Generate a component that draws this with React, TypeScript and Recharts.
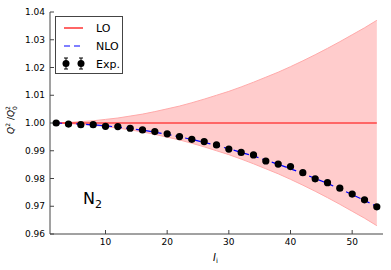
import React from 'react';
import {
  ComposedChart, Area, Line, Scatter, ErrorBar, XAxis, YAxis, Legend,
} from 'recharts';

// particle number I_i
const xs = [2, 4, 6, 8, 10, 12, 14, 16, 18, 20, 22, 24, 26, 28, 30, 32, 34, 36, 38, 40, 42, 44, 46, 48, 50, 52, 54];

// measured ratio Q^2/Q_0^2
const expValues = [
  1.0000, 0.9996, 0.9994, 0.9994, 0.9988, 0.9987, 0.9981, 0.9975, 0.9969, 0.9961,
  0.9951, 0.9941, 0.9933, 0.9921, 0.9906, 0.9894, 0.9885, 0.9863, 0.9852, 0.9843,
  0.9821, 0.9799, 0.9785, 0.9765, 0.9744, 0.9723, 0.9698,
];
const expErrors = [
  0.0003, 0.0003, 0.0003, 0.0003, 0.0003, 0.0003, 0.0003, 0.0003, 0.0003, 0.0003,
  0.0003, 0.0003, 0.0003, 0.0003, 0.0003, 0.0003, 0.0003, 0.0003, 0.0003, 0.0003,
  0.0003, 0.0003, 0.0003, 0.0003, 0.0003, 0.0003, 0.0003,
];

// NLO curve
const nloValues = [
  1.0000, 0.9998, 0.9996, 0.9993, 0.9990, 0.9985, 0.9980, 0.9974, 0.9967, 0.9959,
  0.9950, 0.9941, 0.9930, 0.9919, 0.9907, 0.9894, 0.9881, 0.9866, 0.9851, 0.9835,
  0.9818, 0.9800, 0.9782, 0.9762, 0.9742, 0.9721, 0.9699,
];

// LO line and its uncertainty band
const loValues = [
  1, 1, 1, 1, 1, 1, 1, 1, 1, 1, 1, 1, 1, 1, 1, 1, 1, 1, 1, 1, 1, 1, 1, 1, 1, 1, 1,
];
const bandLow = [
  0.9999, 0.9998, 0.9995, 0.9992, 0.9987, 0.9982, 0.9975, 0.9968, 0.9959, 0.9949,
  0.9939, 0.9927, 0.9914, 0.9900, 0.9886, 0.9870, 0.9853, 0.9835, 0.9817, 0.9797,
  0.9776, 0.9754, 0.9731, 0.9707, 0.9682, 0.9657, 0.9630,
];
const bandHigh = [
  1.0001, 1.0002, 1.0005, 1.0008, 1.0013, 1.0018, 1.0025, 1.0032, 1.0041, 1.0051,
  1.0061, 1.0073, 1.0086, 1.0100, 1.0114, 1.0130, 1.0147, 1.0165, 1.0183, 1.0203,
  1.0224, 1.0246, 1.0269, 1.0293, 1.0318, 1.0343, 1.0370,
];

const xTicks = [10, 20, 30, 40, 50];
const yTicks = [0.96, 0.97, 0.98, 0.99, 1.0, 1.01, 1.02, 1.03, 1.04];

const data = xs.map((x, i) => ({
  x,
  exp: expValues[i],
  err: expErrors[i],
  nlo: nloValues[i],
  lo: loValues[i],
  band: [bandLow[i], bandHigh[i]],
}));

const FONT = '"DejaVu Sans", sans-serif';
const AXIS = '#444';

const LegendBox = () => (
  <div style={{ width: 66, height: 56, border: `1px solid ${AXIS}`, background: '#fff', fontFamily: FONT }}>
    <svg width={66} height={56}>
      <line x1={8} x2={27} y1={11} y2={11} stroke="#ff0000" strokeWidth={1.2} />
      <text x={40} y={15} fontSize={11} fill="#000">LO</text>
      <line x1={8} x2={27} y1={29} y2={29} stroke="#0000ff" strokeWidth={1.2} strokeDasharray="6 4" />
      <text x={40} y={33} fontSize={11} fill="#000">NLO</text>
      {[10, 25].map((cx) => (
        <g key={cx}>
          <line x1={cx} x2={cx} y1={41} y2={52} stroke="#000" strokeWidth={1} />
          <line x1={cx - 2} x2={cx + 2} y1={41} y2={41} stroke="#000" />
          <line x1={cx - 2} x2={cx + 2} y1={52} y2={52} stroke="#000" />
          <circle cx={cx} cy={46.5} r={3.5} fill="#000" />
        </g>
      ))}
      <text x={40} y={51} fontSize={11} fill="#000">Exp.</text>
    </svg>
  </div>
);

const XLabel = ({ viewBox }: any) => {
  const cx = viewBox.x + viewBox.width / 2;
  return (
    <text x={cx - 1} y={viewBox.y + 27} fontSize={10} fontFamily={FONT} fill="#000" textAnchor="middle">
      <tspan fontStyle="italic">I</tspan>
      <tspan fontSize={7} dy={2}>i</tspan>
    </text>
  );
};

const YLabel = () => (
  <text x={14} y={120} fontSize={9} fontFamily={FONT} fill="#000" textAnchor="middle" transform="rotate(-90, 14, 120)">
    <tspan fontStyle="italic">Q</tspan>
    <tspan fontSize={6} dy={-4}>2</tspan>
    <tspan dy={4}> /</tspan>
    <tspan fontStyle="italic">Q</tspan>
    <tspan fontSize={6} dy={-4}>2</tspan>
    <tspan fontSize={6} dx={-3.8} dy={7}>0</tspan>
  </text>
);

export default function App() {
  return (
    <div style={{ position: 'absolute', left: 0, top: 0, width: 391, height: 270, background: '#fff', fontFamily: FONT }}>
      <ComposedChart width={391} height={270} data={data} margin={{ top: 12, right: 8, bottom: 0, left: 0 }}>
        <XAxis
          xAxisId="b" dataKey="x" type="number" domain={[1, 55]} ticks={xTicks}
          height={36} tickSize={-4} tickMargin={9} stroke={AXIS}
          tick={{ fill: '#000', fontSize: 9, fontFamily: FONT }}
          label={<XLabel />}
        />
        <XAxis
          xAxisId="t" orientation="top" dataKey="x" type="number" domain={[1, 55]} ticks={xTicks}
          height={0} tickSize={-4} stroke={AXIS} tick={false}
        />
        <YAxis
          yAxisId="l" type="number" domain={[0.96, 1.04]} ticks={yTicks} width={50}
          tickSize={-4} tickMargin={9} stroke={AXIS}
          tick={{ fill: '#000', fontSize: 9, fontFamily: FONT }}
          tickFormatter={(v: number) => v.toFixed(2)}
          label={<YLabel />}
        />
        <YAxis
          yAxisId="r" orientation="right" type="number" domain={[0.96, 1.04]} ticks={yTicks} width={0}
          tickSize={-4} stroke={AXIS} tick={false}
        />
        <Legend
          layout="vertical" align="center" verticalAlign="middle"
          wrapperStyle={{ left: 55, top: 16, width: 'auto' }}
          content={() => <LegendBox />}
        />
        <Area
          xAxisId="b" yAxisId="l" dataKey="band" type="monotone"
          fill="#ffcccc" fillOpacity={1} stroke="#ffaaaa" strokeWidth={1}
          isAnimationActive={false}
        />
        <Line
          xAxisId="b" yAxisId="l" dataKey="lo" stroke="#ff0000" strokeWidth={1.2}
          dot={false} isAnimationActive={false}
        />
        <Line
          xAxisId="b" yAxisId="l" dataKey="nlo" type="monotone" stroke="#0000ff" strokeWidth={1.2}
          strokeDasharray="6 4" dot={false} isAnimationActive={false}
        />
        <Scatter
          xAxisId="b" yAxisId="l" dataKey="exp" fill="#000"
          shape={(p: any) => <circle cx={p.cx} cy={p.cy} r={3.6} fill="#000" />}
          isAnimationActive={false}
        >
          <ErrorBar dataKey="err" direction="y" stroke="#000" width={3} />
        </Scatter>
      </ComposedChart>
      <div style={{ position: 'absolute', left: 83, top: 189, fontSize: 16, fontFamily: FONT, color: '#000', lineHeight: '20px' }}>
        N<sub style={{ fontSize: 11, verticalAlign: '-4px' }}>2</sub>
      </div>
    </div>
  );
}
